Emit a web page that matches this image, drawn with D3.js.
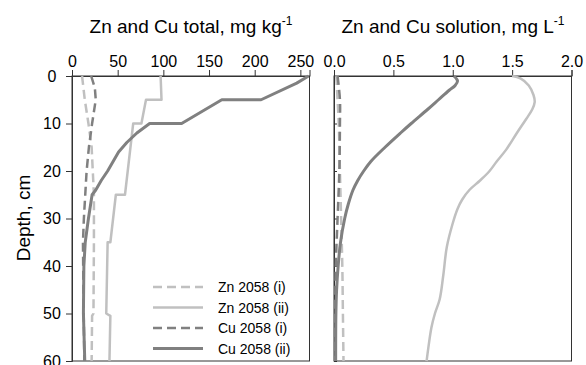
<!DOCTYPE html>
<html><head><meta charset="utf-8">
<script src="https://cdn.jsdelivr.net/npm/d3@7"></script>
<style>body{margin:0;background:#fff}svg{display:block}text{font-family:Arial,"Liberation Sans",sans-serif;fill:#000}</style>
</head><body><svg id="c" width="586" height="365"></svg>
<script>
// ---- data: [depth (cm), value] ----
const totalTicks = [0, 50, 100, 150, 200, 250];
const solTicks = [0, 0.5, 1.0, 1.5, 2.0];
const depthTicks = [0, 10, 20, 30, 40, 50, 60];
const seriesNames = ["Zn 2058 (i)", "Zn 2058 (ii)", "Cu 2058 (i)", "Cu 2058 (ii)"];

const znTotal_i = [[0,11],[5,14],[10,18],[15,21.5],[25,24],[35,24],[50,23.5],[50.5,22],[60,21.5]];
const znTotal_ii = [[0,97],[5,98],[5,81],[10,76],[10,67],[25,58],[25,48],[35,42],[35,39],[50,37.5],[50.5,42],[60,41]];
const cuTotal_i = [[0,21],[2.5,25],[5,26],[10,22],[15,18.5],[20,16],[25,14.5],[30,13],[35,12],[45,12.5],[60,13.5]];
const cuTotal_ii = [[0,259],[1.5,246],[5,207],[5,164],[10,120],[10,85],[12,71],[14,60],[16,51],[18,45],[20,39],[22,32],[24,26],[25,22],[30,18],[35,14.5],[40,13],[50,12.5],[60,14]];

const znSol_i = [[0,0.02],[5,0.03],[10,0.04],[20,0.05],[30,0.06],[40,0.07],[50,0.075],[60,0.08]];
const znSol_ii = [[0,1.5],[0.5,1.57],[2,1.64],[4,1.68],[5.5,1.69],[7,1.67],[9,1.62],[12,1.54],[15.5,1.45],[18,1.37],[20,1.31],[22,1.23],[24,1.14],[26,1.08],[28,1.04],[31,1.0],[36,0.95],[42,0.92],[47,0.89],[50,0.85],[53,0.82],[60,0.78]];
const cuSol_i = [[0,0.03],[5,0.05],[10,0.05],[20,0.045],[30,0.03],[40,0.015],[50,0.01],[60,0.01]];
const cuSol_ii = [[0,1.01],[1,1.04],[2,1.02],[3,0.97],[5,0.88],[7,0.79],[10,0.65],[12,0.56],[15,0.43],[18,0.31],[20,0.25],[22,0.2],[24,0.16],[27,0.12],[30,0.09],[35,0.055],[40,0.035],[45,0.022],[50,0.016],[60,0.014]];

// ---- styles ----
const LIGHT = "#c0c0c0", DARK = "#808080";
const styles = [
  {color: LIGHT, dash: "9,5", w: 2.5},
  {color: LIGHT, dash: null, w: 2.5},
  {color: DARK, dash: "9,5", w: 2.5},
  {color: DARK, dash: null, w: 3}
];

const svg = d3.select("#c");
const yTop = 76, yBottom = 361;
const y = d3.scaleLinear().domain([0, 60]).range([yTop, yBottom]);
const xT = d3.scaleLinear().domain([0, 260]).range([72, 309.5]);
const xS = d3.scaleLinear().domain([0, 2]).range([334, 571.5]);
const FRAME = "#333";

function panel(x, ticks, fmt, data, curve, yLabels, title, titleX) {
  const g = svg.append("g");
  g.append("rect").attr("x", x.range()[0]).attr("y", yTop)
    .attr("width", x.range()[1] - x.range()[0]).attr("height", yBottom - yTop)
    .attr("fill", "none").attr("stroke", FRAME).attr("stroke-width", 1);
  const ax = g.append("g").attr("transform", `translate(0,${yTop})`)
    .call(d3.axisTop(x).tickValues(ticks).tickFormat(fmt).tickSize(6).tickPadding(3));
  ax.select(".domain").attr("stroke", FRAME);
  ax.selectAll(".tick line").attr("stroke", FRAME);
  ax.selectAll("text").style("font-size", "16px").style("font-family", "Arial, 'Liberation Sans', sans-serif").attr("fill", "#000");
  const ay = g.append("g").attr("transform", `translate(${x.range()[0]},0)`)
    .call(d3.axisLeft(y).tickValues(depthTicks).tickSize(yLabels ? 6 : -3).tickPadding(yLabels ? 0 : 3)
      .tickFormat(yLabels ? d3.format("d") : ""));
  ay.select(".domain").attr("stroke", FRAME);
  ay.selectAll(".tick line").attr("stroke", FRAME);
  if (yLabels) {
    ay.selectAll("text").attr("text-anchor", "middle").attr("x", 52 - x.range()[0])
      .style("font-size", "16px").style("font-family", "Arial, 'Liberation Sans', sans-serif").attr("fill", "#000");
  }
  const line = d3.line().x(d => x(d[1])).y(d => y(d[0])).curve(curve);
  data.forEach((s, i) => {
    g.append("path").attr("d", line(s)).attr("fill", "none")
      .attr("stroke", styles[i].color).attr("stroke-width", styles[i].w)
      .attr("stroke-dasharray", styles[i].dash).attr("stroke-linejoin", "round");
  });
  const t = svg.append("text").attr("x", titleX).attr("y", 33).attr("text-anchor", "middle")
    .style("font-size", "19px");
  t.append("tspan").text(title[0]);
  t.append("tspan").text(title[1]).attr("dy", -8).style("font-size", "12px");
}

panel(xT, totalTicks, d3.format("d"), [znTotal_i, znTotal_ii, cuTotal_i, cuTotal_ii],
  d3.curveLinear, true, ["Zn and Cu total, mg kg", "-1"], 191);
panel(xS, solTicks, d3.format(".1f"), [znSol_i, znSol_ii, cuSol_i, cuSol_ii],
  d3.curveCatmullRom.alpha(0.5), false, ["Zn and Cu solution, mg L", "-1"], 453);

svg.append("text").attr("transform", "translate(30,218) rotate(-90)").attr("text-anchor", "middle")
  .style("font-size", "19px").text("Depth, cm");

const leg = svg.append("g");
seriesNames.forEach((n, i) => {
  const yy = 287 + i * 20.5;
  leg.append("line").attr("x1", 153).attr("x2", 203).attr("y1", yy).attr("y2", yy)
    .attr("stroke", styles[i].color).attr("stroke-width", styles[i].w).attr("stroke-dasharray", styles[i].dash);
  leg.append("text").attr("x", 218).attr("y", yy + 5).style("font-size", "14px").text(n);
});
</script></body></html>
